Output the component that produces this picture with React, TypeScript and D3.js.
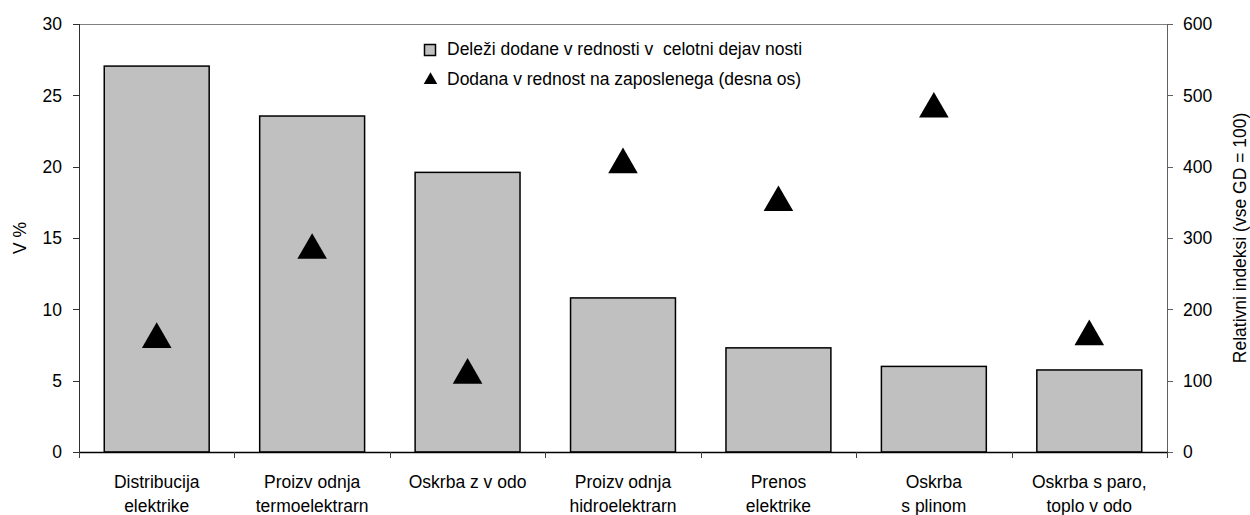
import React from "react";
import * as d3 from "d3";

const categories: string[][] = [
  ["Distribucija", "elektrike"],
  ["Proizv odnja", "termoelektrarn"],
  ["Oskrba z v odo"],
  ["Proizv odnja", "hidroelektrarn"],
  ["Prenos", "elektrike"],
  ["Oskrba", "s plinom"],
  ["Oskrba s paro,", "toplo v odo"],
];
const shares: number[] = [27.05, 23.55, 19.6, 10.8, 7.3, 6.0, 5.75];
const perEmployee: number[] = [162, 287, 112, 407, 354, 485, 166];
const leftTicks: number[] = [0, 5, 10, 15, 20, 25, 30];
const rightTicks: number[] = [0, 100, 200, 300, 400, 500, 600];
const legendLabels: string[] = [
  "Deleži dodane v rednosti v  celotni dejav nosti",
  "Dodana v rednost na zaposlenega (desna os)",
];

const W = 1250;
const H = 515;
const L = 79;
const R = 1167;
const T = 24;
const B = 452;
const FONT = "'Liberation Sans', Arial, sans-serif";
const FS = 17.5;

export default function App() {
  const idx = categories.map((_, i) => String(i));
  const x = d3.scaleBand<string>().domain(idx).range([L, R]).paddingInner(0).paddingOuter(0);
  const yL = d3.scaleLinear().domain([0, 30]).range([B, T]);
  const yR = d3.scaleLinear().domain([0, 600]).range([B, T]);
  const bw = x.bandwidth() * 0.675;
  const tri = d3.symbol().type(d3.symbolTriangle).size(380);
  const triSmall = d3.symbol().type(d3.symbolTriangle).size(80);
  const boundaries = d3.range(categories.length + 1).map((i) => L + i * x.bandwidth());

  return (
    <svg width={W} height={H} style={{ position: "absolute", left: 0, top: 0, background: "#fff" }}>
      <rect x={0} y={0} width={W} height={H} fill="#fff" />
      {/* bars */}
      {shares.map((v, i) => (
        <rect
          key={"b" + i}
          x={(x(String(i)) as number) + (x.bandwidth() - bw) / 2}
          y={yL(v)}
          width={bw}
          height={B - yL(v)}
          fill="#c0c0c0"
          stroke="#000"
          strokeWidth={1.5}
        />
      ))}
      {/* top border */}
      <line x1={L} x2={R} y1={T + 0.5} y2={T + 0.5} stroke="#808080" strokeWidth={1} />
      {/* left axis */}
      <line x1={L + 0.5} x2={L + 0.5} y1={T} y2={B} stroke="#303030" strokeWidth={1} />
      {leftTicks.map((t) => (
        <g key={"lt" + t}>
          <line x1={L - 6} x2={L} y1={Math.round(yL(t)) + 0.5} y2={Math.round(yL(t)) + 0.5} stroke="#303030" />
          <text x={62} y={yL(t)} dy="0.36em" textAnchor="end" fontSize={FS} fontFamily={FONT} fill="#000">
            {t}
          </text>
        </g>
      ))}
      {/* right axis */}
      <line x1={R + 0.5} x2={R + 0.5} y1={T} y2={B} stroke="#606060" strokeWidth={1} />
      {rightTicks.map((t) => (
        <g key={"rt" + t}>
          <line x1={R} x2={R + 6} y1={Math.round(yR(t)) + 0.5} y2={Math.round(yR(t)) + 0.5} stroke="#606060" />
          <text x={1183} y={yR(t)} dy="0.36em" textAnchor="start" fontSize={FS} fontFamily={FONT} fill="#000">
            {t}
          </text>
        </g>
      ))}
      {/* bottom axis */}
      <line x1={L} x2={R + 1} y1={B + 0.5} y2={B + 0.5} stroke="#000" strokeWidth={1.5} />
      {boundaries.map((bx, i) => (
        <line key={"bt" + i} x1={Math.round(bx) + 0.5} x2={Math.round(bx) + 0.5} y1={B} y2={B + 6} stroke="#404040" />
      ))}
      {/* triangles */}
      {perEmployee.map((v, i) => (
        <path
          key={"t" + i}
          d={tri() as string}
          transform={`translate(${(x(String(i)) as number) + x.bandwidth() / 2},${yR(v) + 3})`}
          fill="#000"
        />
      ))}
      {/* category labels */}
      {categories.map((lines, i) => (
        <text
          key={"c" + i}
          x={(x(String(i)) as number) + x.bandwidth() / 2}
          textAnchor="middle"
          fontSize={FS}
          fontFamily={FONT}
          fill="#000"
        >
          {lines.map((ln, j) => (
            <tspan key={j} x={(x(String(i)) as number) + x.bandwidth() / 2} y={488 + j * 24}>
              {ln}
            </tspan>
          ))}
        </text>
      ))}
      {/* axis titles */}
      <text
        transform={`translate(26,${(T + B) / 2}) rotate(-90)`}
        textAnchor="middle"
        fontSize={FS}
        fontFamily={FONT}
        fill="#000"
      >
        V %
      </text>
      <text
        transform={`translate(1246,${(T + B) / 2}) rotate(-90)`}
        textAnchor="middle"
        fontSize={FS}
        fontFamily={FONT}
        fill="#000"
      >
        Relativni indeksi (vse GD = 100)
      </text>
      {/* legend */}
      <rect x={424.5} y={44.5} width={11} height={11} fill="#c0c0c0" stroke="#000" strokeWidth={1.5} />
      <text x={447} y={55} fontSize={FS} fontFamily={FONT} fill="#000" style={{ whiteSpace: "pre" }}>
        {legendLabels[0]}
      </text>
      <path d={triSmall() as string} transform="translate(430.5,80)" fill="#000" />
      <text x={447} y={85} fontSize={FS} fontFamily={FONT} fill="#000" style={{ whiteSpace: "pre" }}>
        {legendLabels[1]}
      </text>
    </svg>
  );
}
